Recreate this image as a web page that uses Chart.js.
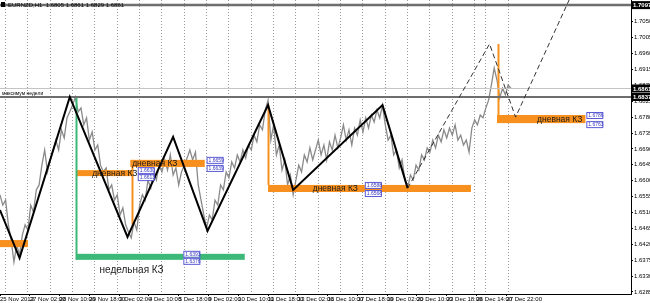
<!DOCTYPE html>
<html>
<head>
<meta charset="utf-8">
<script src="https://cdn.jsdelivr.net/npm/chart.js@4.4.1/dist/chart.umd.min.js"></script>
<style>
  html, body { margin: 0; padding: 0; background: #fff; }
</style>
</head>
<body>
<canvas id="c" width="650" height="303"></canvas>
<script>
// EURNZD H1, bar index on x (one bar = one hour)
const xTickBars = [0,32,64,96,128,160,192,224,256,288,320,352,384,416,448,480,512,544]
const xTickLabels = ['25 Nov 2013','27 Nov 02:00','28 Nov 10:00','29 Nov 18:00','3 Dec 02:00','4 Dec 10:00',
  '5 Dec 18:00','9 Dec 02:00','10 Dec 10:00','11 Dec 18:00','13 Dec 02:00','16 Dec 10:00','17 Dec 18:00',
  '19 Dec 02:00','20 Dec 10:00','23 Dec 18:00','26 Dec 14:00','27 Dec 22:00']
// day separators
const gridBars = [6,30,54,78,102,126,150,174,198,222,246,270,294,318,342,366,390,414,438,462,486,510,522,546]
const yTicks = [1.6285,1.6330,1.6375,1.6420,1.6465,1.6510,1.6555,1.6600,1.6645,1.6690,1.6735,1.6780,
  1.6825,1.6870,1.6915,1.6960,1.7005,1.7050]

// close prices, read every 3rd bar
const priceBars = [0,3,6,9,12,15,18,21,24,27,30,33,36,39,42,45,48,51,54,57,60,63,66,69,72,75,78,81,84,87,
  90,93,96,99,102,105,108,111,114,117,120,123,126,129,132,135,138,141,144,147,150,153,156,159,162,165,168,171,174,177,
  180,183,186,189,192,195,198,201,204,207,210,213,216,219,222,225,228,231,234,237,240,243,246,249,252,255,258,261,264,267,
  270,273,276,279,282,285,288,291,294,297,300,303,306,309,312,315,318,321,324,327,330,333,336,339,342,345,348,351,354,357,
  360,363,366,369,372,375,378,381,384,387,390,393,396,399,402,405,408,411,414,417,420,423,426,429,432,435,438,441,444,447,
  450,453,456,459,462,465,468,471,474,477,480,483,486,489,492,495,498,501,504,507,510,513,516,519,522,525,528,531,534,537,
  540,543,546,549]
const priceValues = [
  1.6560,1.6531,1.6545,1.6475,1.6432,1.6370,1.6418,1.6390,1.6446,1.6475,
  1.6460,1.6531,1.6511,1.6574,1.6588,1.6644,1.6687,1.6625,1.6659,1.6687,
  1.6715,1.6687,1.6744,1.6721,1.6778,1.6795,1.6814,1.6837,1.6795,1.6806,
  1.6758,1.6778,1.6715,1.6738,1.6687,1.6701,1.6644,1.6625,1.6636,1.6574,
  1.6588,1.6545,1.6560,1.6503,1.6523,1.6475,1.6455,1.6438,1.6483,1.6460,
  1.6531,1.6560,1.6545,1.6602,1.6579,1.6625,1.6602,1.6644,1.6625,1.6659,
  1.6630,1.6673,1.6616,1.6636,1.6588,1.6625,1.6644,1.6664,1.6687,1.6659,
  1.6681,1.6588,1.6545,1.6503,1.6466,1.6503,1.6489,1.6545,1.6531,1.6588,
  1.6574,1.6625,1.6608,1.6653,1.6636,1.6673,1.6653,1.6687,1.6664,1.6701,
  1.6687,1.6729,1.6710,1.6758,1.6744,1.6800,1.6828,1.6715,1.6758,1.6673,
  1.6701,1.6630,1.6659,1.6588,1.6616,1.6560,1.6602,1.6644,1.6625,1.6673,
  1.6653,1.6693,1.6659,1.6687,1.6715,1.6673,1.6701,1.6659,1.6710,1.6687,
  1.6729,1.6693,1.6721,1.6758,1.6715,1.6744,1.6701,1.6749,1.6729,1.6772,
  1.6738,1.6778,1.6749,1.6786,1.6766,1.6800,1.6778,1.6814,1.6758,1.6715,
  1.6729,1.6673,1.6687,1.6636,1.6659,1.6602,1.6579,1.6616,1.6602,1.6644,
  1.6630,1.6673,1.6659,1.6693,1.6681,1.6715,1.6693,1.6729,1.6710,1.6744,
  1.6721,1.6749,1.6729,1.6758,1.6715,1.6729,1.6701,1.6715,1.6681,1.6749,
  1.6772,1.6758,1.6786,1.6778,1.6806,1.6828,1.6871,1.6919,1.6885,1.6834,
  1.6862,1.6843,1.6871,1.6861]

// zigzag and projection
const zigBars = [0,21,75,137,186,223,288,315,411,438]
const zigValues = [1.6517,1.6381,1.6837,1.6441,1.6724,1.6458,1.6814,1.6574,1.6814,1.6579]
const projBars = [438,526,554,614]
const projValues = [1.6579,1.6987,1.6780,1.7126]

// horizontal levels: high line, weekly line, last price
const levelValues = [1.7097, 1.6837, 1.6861]

// support/resistance zones
const zoneFrom = [0, 82, 82, 140, 288, 534]
const zoneTo = [30, 263, 142, 220, 506, 629]
const zoneHigh = [1.6432, 1.6393, 1.6630, 1.6659, 1.6588, 1.6786]
const zoneLow = [1.6412, 1.6376, 1.6613, 1.6639, 1.6568, 1.6763]
const zoneKind = ['day', 'week', 'day', 'day', 'day', 'day']
const zoneLabelBar = [null, 197, 148, 222, 392, 630]
const zoneTextBar = [null, null, 99, 142, 336, 577]

const vlineBars = [82, 142, 288, 535]
const vlineFrom = [1.6837, 1.6659, 1.6814, 1.6987]
const vlineTo = [1.6376, 1.6475, 1.6588, 1.6786]
const vlineKind = ['week', 'day', 'day', 'day']

const FONT = "'Liberation Sans', 'DejaVu Sans', sans-serif"
const COLORS = {day: '#f7901e', week: '#3cb878'}

const levelLine = (v, color, w) => ({
  data: [{x: 0, y: v}, {x: 678, y: v}],
  borderColor: color, borderWidth: w, pointRadius: 0, order: 2
})

function drawZones(chart) {
  const {ctx, scales: {x, y}, chartArea} = chart
  ctx.save()
  ctx.beginPath()
  ctx.rect(chartArea.left, chartArea.top, chartArea.width, chartArea.height)
  ctx.clip()
  zoneFrom.forEach((b, i) => {
    const x1 = x.getPixelForValue(b), x2 = x.getPixelForValue(zoneTo[i])
    const y1 = y.getPixelForValue(zoneHigh[i]), y2 = y.getPixelForValue(zoneLow[i])
    ctx.fillStyle = COLORS[zoneKind[i]]
    ctx.fillRect(x1, y1, x2 - x1, y2 - y1)
  })
  vlineBars.forEach((b, i) => {
    const xx = Math.round(x.getPixelForValue(b)) + 0.5
    ctx.strokeStyle = COLORS[vlineKind[i]]
    ctx.lineWidth = 2
    ctx.beginPath()
    ctx.moveTo(xx, y.getPixelForValue(vlineFrom[i]))
    ctx.lineTo(xx, y.getPixelForValue(vlineTo[i]))
    ctx.stroke()
  })
  ctx.restore()
}

function priceBox(ctx, cx, cy, text) {
  ctx.fillStyle = '#fff'
  ctx.fillRect(cx, cy - 3, 16, 6)
  ctx.strokeStyle = '#5b5bd6'
  ctx.lineWidth = 1
  ctx.strokeRect(cx + 0.5, cy - 3 + 0.5, 16, 6)
  ctx.fillStyle = '#3a3ac0'
  ctx.font = '5px ' + FONT
  ctx.textAlign = 'left'
  ctx.textBaseline = 'middle'
  ctx.fillText(text, cx + 2, cy + 0.5)
}

function axisBox(ctx, left, cy, text) {
  ctx.fillStyle = '#000'
  ctx.fillRect(left, cy - 4, 18, 8)
  ctx.fillStyle = '#fff'
  ctx.font = 'bold 6px ' + FONT
  ctx.textAlign = 'left'
  ctx.textBaseline = 'middle'
  ctx.fillText(text, left + 1, cy + 0.5)
}

const overlay = {
  id: 'overlay',
  afterDatasetDraw(chart, args) {
    if (args.index === 0) drawZones(chart)
  },
  afterDatasetsDraw(chart) {
    const {ctx, scales: {x, y}} = chart
    ctx.save()
    zoneTextBar.forEach((b, i) => {
      if (b === null) return
      ctx.fillStyle = '#1a1a1a'
      ctx.font = '8.5px ' + FONT
      ctx.textAlign = 'left'
      ctx.textBaseline = 'middle'
      const cy = (y.getPixelForValue(zoneHigh[i]) + y.getPixelForValue(zoneLow[i])) / 2
      ctx.fillText('дневная КЗ', x.getPixelForValue(b), cy + 0.5)
    })
    ctx.font = '10px ' + FONT
    ctx.fillStyle = '#1a1a1a'
    ctx.textAlign = 'left'
    ctx.textBaseline = 'middle'
    ctx.fillText('недельная КЗ', x.getPixelForValue(107), y.getPixelForValue(1.6347))
    zoneLabelBar.forEach((b, i) => {
      if (b === null) return
      const lx = x.getPixelForValue(b)
      priceBox(ctx, lx, y.getPixelForValue(zoneHigh[i]), zoneHigh[i].toFixed(4))
      priceBox(ctx, lx, y.getPixelForValue(zoneLow[i]) + 1, zoneLow[i].toFixed(4))
    })
    // header and level caption
    ctx.fillStyle = '#000'
    ctx.font = '6px ' + FONT
    ctx.textBaseline = 'middle'
    ctx.fillText('EURNZD,H1  1.6805 1.6861 1.6829 1.6861', 8, 5)
    ctx.fillRect(1, 2, 4, 5)
    ctx.font = '5px ' + FONT
    ctx.fillText('максимум недели', 2, y.getPixelForValue(levelValues[1]) - 3)
    ctx.restore()
  },
  afterDraw(chart) {
    const {ctx, scales: {y}, chartArea} = chart
    ctx.save()
    levelValues.forEach(v => axisBox(ctx, chartArea.right + 1, y.getPixelForValue(v), v.toFixed(4)))
    ctx.restore()
  }
}

new Chart(document.getElementById('c'), {
  type: 'line',
  data: {
    datasets: [
      {
        data: priceBars.map((b, i) => ({x: b, y: priceValues[i]})),
        borderColor: '#8a8a8a', borderWidth: 1.3, pointRadius: 0, order: 5
      },
      {
        data: zigBars.map((b, i) => ({x: b, y: zigValues[i]})),
        borderColor: '#000', borderWidth: 2, pointRadius: 0, order: 0
      },
      {
        data: projBars.map((b, i) => ({x: b, y: projValues[i]})),
        borderColor: '#333', borderWidth: 1, borderDash: [5, 3], pointRadius: 0, order: 0
      },
      levelLine(levelValues[0], '#6e6e6e', 2.5),
      levelLine(levelValues[1], '#6e6e6e', 2),
      levelLine(levelValues[2], '#c4c4c4', 1)
    ]
  },
  options: {
    responsive: false,
    animation: false,
    events: [],
    layout: {padding: 0},
    plugins: {legend: {display: false}, tooltip: {enabled: false}},
    scales: {
      x: {
        type: 'linear', min: 0, max: 678, position: 'bottom',
        afterBuildTicks: s => { s.ticks = xTickBars.map(v => ({value: v})) },
        ticks: {
          callback: (v, i) => xTickLabels[i], font: {size: 6, family: FONT}, color: '#000',
          maxRotation: 0, autoSkip: false, align: 'start', padding: 0
        },
        grid: {drawOnChartArea: false, drawTicks: true, tickLength: 2, color: '#000'},
        border: {display: true, color: '#000'},
        afterFit: s => { s.height = 9; s.paddingLeft = 0; s.paddingRight = 0 }
      },
      x2: {
        type: 'linear', min: 0, max: 678, position: 'bottom',
        afterBuildTicks: s => { s.ticks = gridBars.map(v => ({value: v})) },
        ticks: {display: false},
        grid: {color: '#9a9a9a', lineWidth: 1, drawTicks: false},
        border: {display: false, dash: [1, 2]},
        afterFit: s => { s.height = 0; s.paddingLeft = 0; s.paddingRight = 0 }
      },
      y: {
        type: 'linear', position: 'right', min: 1.62793, max: 1.71115,
        afterBuildTicks: s => { s.ticks = yTicks.map(v => ({value: v})) },
        ticks: {callback: v => v.toFixed(4), font: {size: 6, family: FONT}, color: '#000', padding: 1},
        grid: {drawOnChartArea: false, tickLength: 2, color: '#000'},
        border: {display: true, color: '#000'},
        afterFit: s => { s.width = 19; s.paddingTop = 0; s.paddingBottom = 0 }
      }
    }
  },
  plugins: [overlay]
})
</script>
</body>
</html>
